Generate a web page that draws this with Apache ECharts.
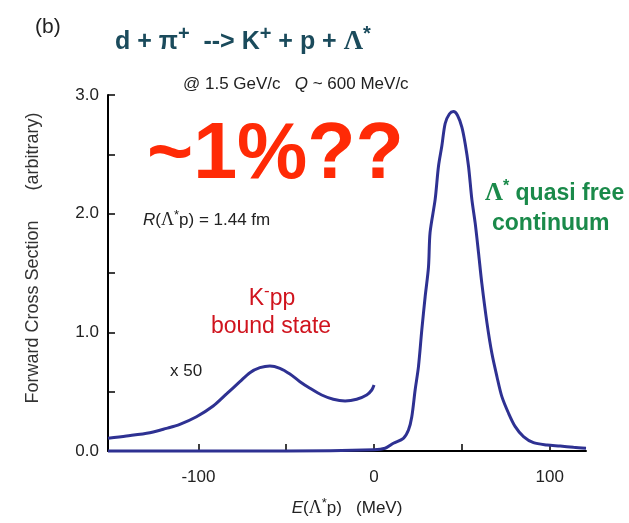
<!DOCTYPE html>
<html>
<head>
<meta charset="utf-8">
<script src="https://cdn.jsdelivr.net/npm/echarts@6/dist/echarts.min.js"></script>
<style>
  html, body { margin: 0; padding: 0; background: #ffffff; }
  #chart { width: 629px; height: 523px; }
</style>
</head>
<body>
<div id="chart"></div>
<script>
// Λ* quasi-free continuum: forward cross section vs E(Λ*p)
const energyMain = [-151.5, -100, -50, 0, 6.3, 11, 16.7, 19.6, 21.5, 23.4, 25.3, 27.2, 29.1, 31, 31.9,
  34.8, 36.7, 38.6, 40.5, 42.9, 45.2, 47.5, 50, 51.9, 53.8, 55.7, 57.6, 59.5, 61.4, 64.3, 67.1,
  70, 72.8, 76.6, 80.4, 85.1, 90.8, 98.5, 106, 113.6, 120.7];
const sigmaMain = [0, 0, 0, 0.01, 0.023, 0.065, 0.107, 0.177, 0.289, 0.514, 0.711, 1.02, 1.30, 1.55, 1.84,
  2.12, 2.40, 2.57, 2.76, 2.84, 2.86, 2.83, 2.73, 2.59, 2.40, 2.12, 1.92, 1.67, 1.41, 1.08, 0.823,
  0.626, 0.458, 0.318, 0.205, 0.121, 0.070, 0.051, 0.042, 0.031, 0.023];

// K-pp bound-state region, scaled x 50
const energyBound = [-151.5, -141, -127.7, -118.2, -110.6, -101.1, -91.6, -84, -76.4, -70.7, -65, -59.3,
  -53.6, -47.9, -42.2, -36.5, -29.8, -23.2, -16.5, -9.9, -4.2, -1.3, 0];
const sigmaBound = [0.107, 0.126, 0.154, 0.191, 0.225, 0.289, 0.379, 0.481, 0.584, 0.66, 0.702, 0.717,
  0.697, 0.649, 0.584, 0.529, 0.472, 0.436, 0.422, 0.436, 0.472, 0.514, 0.556];

// axis ticks and labels
const xTickValues = [-100, -50, 0, 50, 100];
const xLabelValues = [-100, 0, 100];
const yTickValues = [0, 0.5, 1, 1.5, 2, 2.5, 3];
const yLabelValues = [0, 1, 2, 3];

const SANS = 'Arial, "Liberation Sans", Helvetica, sans-serif';
const SERIF = '"Liberation Serif", "Times New Roman", serif';
const NAVY = '#2e3192';
const TEAL = '#1b4b5c';
const GREEN = '#1a8a4a';
const RED = '#ff2a06';
const DARKRED = '#d0141e';
const INK = '#222222';

const zip = (xs, ys) => xs.map((x, i) => [x, ys[i]]);

const chart = echarts.init(document.getElementById('chart'), null, { renderer: 'canvas' });

// superscript token: smaller glyphs lifted by extra bottom padding
const sup = (size, fill, raise, weight) => ({
  fontFamily: SANS, fontSize: size, fill: fill, fontWeight: weight || 'normal',
  padding: [0, 0, raise, 0]
});

chart.setOption({
  animation: false,
  backgroundColor: '#ffffff',
  grid: { left: 108, right: 43, top: 95, bottom: 72, containLabel: false },
  xAxis: {
    type: 'value', min: -151.5, max: 120.7,
    splitLine: { show: false },
    axisLine: { show: true, onZero: false, lineStyle: { color: '#000', width: 2 } },
    axisTick: { show: true, inside: true, length: 7, customValues: xTickValues, lineStyle: { color: '#000', width: 1.5 } },
    axisLabel: { customValues: xLabelValues, margin: 18, fontSize: 17, color: INK, fontFamily: SANS,
      formatter: v => String(v) }
  },
  yAxis: {
    type: 'value', min: 0, max: 3,
    splitLine: { show: false },
    axisLine: { show: true, onZero: false, lineStyle: { color: '#000', width: 2 } },
    axisTick: { show: true, inside: true, length: 7, customValues: yTickValues, lineStyle: { color: '#000', width: 1.5 } },
    axisLabel: { customValues: yLabelValues, margin: 9, fontSize: 17, color: INK, fontFamily: SANS,
      formatter: v => v.toFixed(1) }
  },
  series: [
    {
      name: 'quasi-free', type: 'line', data: zip(energyMain, sigmaMain),
      showSymbol: false, smooth: 0.3, clip: false, z: 3,
      lineStyle: { color: NAVY, width: 3 }
    },
    {
      name: 'bound x50', type: 'line', data: zip(energyBound, sigmaBound),
      showSymbol: false, smooth: 0.3, clip: false, z: 3,
      lineStyle: { color: NAVY, width: 3 }
    }
  ],
  graphic: [
    { type: 'text', x: 35, y: 27, style: { text: '(b)', font: '21px ' + SANS, fill: INK, verticalAlign: 'middle' } },
    {
      type: 'text', x: 115, y: 42,
      style: {
        text: '{m|d + π}{s|+}{m|  --> K}{s|+}{m| + p + }{L|Λ}{s|*}',
        verticalAlign: 'middle',
        rich: {
          m: { fontFamily: SANS, fontSize: 25, fontWeight: 'bold', fill: TEAL },
          L: { fontFamily: SERIF, fontSize: 27, fontWeight: 'bold', fill: TEAL },
          s: sup(20, TEAL, 15, 'bold')
        }
      }
    },
    {
      type: 'text', x: 183, y: 84,
      style: {
        text: '{n|@ 1.5 GeV/c   }{i|Q}{n| ~ 600 MeV/c}',
        verticalAlign: 'middle',
        rich: {
          n: { fontFamily: SANS, fontSize: 17, fill: INK },
          i: { fontFamily: SANS, fontSize: 17, fontStyle: 'italic', fill: INK }
        }
      }
    },
    { type: 'text', x: 147, y: 156, style: { text: '~1%??', font: 'bold 79px ' + SANS, fill: RED, verticalAlign: 'middle' } },
    {
      type: 'text', x: 143, y: 220,
      style: {
        text: '{i|R}{n|(}{L|Λ}{s|*}{n|p) = 1.44 fm}',
        verticalAlign: 'middle',
        rich: {
          n: { fontFamily: SANS, fontSize: 17, fill: INK },
          i: { fontFamily: SANS, fontSize: 17, fontStyle: 'italic', fill: INK },
          L: { fontFamily: SERIF, fontSize: 18, fill: INK },
          s: sup(13, INK, 10)
        }
      }
    },
    {
      type: 'text', x: 272, y: 299,
      style: {
        text: '{n|K}{s|-}{n|pp}',
        align: 'center', verticalAlign: 'middle',
        rich: {
          n: { fontFamily: SANS, fontSize: 23, fill: DARKRED },
          s: sup(17, DARKRED, 16)
        }
      }
    },
    { type: 'text', x: 271, y: 327, style: { text: 'bound state', font: '23px ' + SANS, fill: DARKRED, align: 'center', verticalAlign: 'middle' } },
    { type: 'text', x: 170, y: 371, style: { text: 'x 50', font: '17px ' + SANS, fill: INK, verticalAlign: 'middle' } },
    {
      type: 'text', x: 485, y: 194,
      style: {
        text: '{L|Λ}{s|*}{m| quasi free}',
        verticalAlign: 'middle',
        rich: {
          L: { fontFamily: SERIF, fontSize: 25, fontWeight: 'bold', fill: GREEN },
          m: { fontFamily: SANS, fontSize: 23, fontWeight: 'bold', fill: GREEN },
          s: sup(16, GREEN, 14, 'bold')
        }
      }
    },
    { type: 'text', x: 492, y: 224, style: { text: 'continuum', font: 'bold 23px ' + SANS, fill: GREEN, verticalAlign: 'middle' } },
    {
      type: 'text', x: 33, y: 258, rotation: Math.PI / 2,
      style: { text: 'Forward Cross Section      (arbitrary)', font: '18px ' + SANS, fill: '#333333', align: 'center', verticalAlign: 'middle' }
    },
    {
      type: 'text', x: 347, y: 508,
      style: {
        text: '{i|E}{n|(}{L|Λ}{s|*}{n|p)   (MeV)}',
        align: 'center', verticalAlign: 'middle',
        rich: {
          n: { fontFamily: SANS, fontSize: 17, fill: INK },
          i: { fontFamily: SANS, fontSize: 17, fontStyle: 'italic', fill: INK },
          L: { fontFamily: SERIF, fontSize: 18, fill: INK },
          s: sup(13, INK, 10)
        }
      }
    }
  ]
});
</script>
</body>
</html>
